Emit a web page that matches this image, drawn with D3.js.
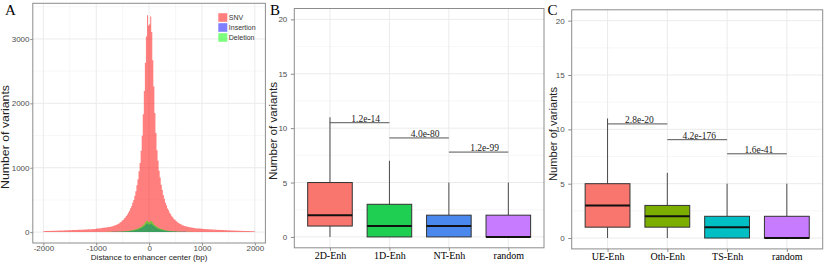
<!DOCTYPE html>
<html><head><meta charset="utf-8">
<script src="https://cdn.jsdelivr.net/npm/d3@7"></script>
<style>body{margin:0;background:#fff} svg{display:block}</style>
</head><body>
<svg id="c" width="826" height="266"></svg>
<script>
// ---------------- Panel A data (histogram of variant positions) ----------------
const binWidth = 20;
const snvStart = -2000;
const snvCounts = [
 15,17,16,18,17,19,20,18,21,20,
 22,21,23,24,22,25,24,26,27,25,
 28,27,29,30,28,31,30,32,33,31,
 34,33,35,36,35,37,38,37,39,40,
 41,40,43,44,42,46,47,45,49,50,
 55,57,56,60,62,63,66,69,70,73,
 75,78,80,84,87,90,97,101,110,116,
 127,135,148,158,176,188,210,226,252,272,
 305,330,372,404,456,500,566,636,728,822,
 945,1075,1265,1495,1830,2190,2630,3040,3370,3210,
 3230,3350,3110,2670,2260,1850,1540,1270,1110,955,
 850,735,660,575,520,455,416,366,340,300,
 279,247,230,205,192,171,162,146,139,125,
 119,108,104,95,93,86,84,78,77,72,
 71,66,65,62,62,58,58,55,55,52,
 52,49,49,46,47,44,45,42,43,40,
 41,38,39,36,37,34,36,33,34,31,
 32,30,31,28,29,27,28,25,27,24,
 25,23,24,21,23,20,22,19,20,18,
 19,17,18,16,17,15,16,14,15,14
];
const indelStart = -800;
const insertionCounts = [
 2,3,3,3,3,4,4,4,5,5,6,6,7,7,8,9,10,11,12,13,
 14,16,18,20,23,26,29,33,37,42,48,55,63,72,83,96,112,130,135,120,
 118,133,128,110,94,82,71,62,54,47,41,36,32,28,25,22,20,18,16,14,
 13,12,11,10,9,8,7,7,6,6,5,5,4,4,4,3,3,3,3,2
];
const deletionCounts = [
 4,4,4,5,5,5,6,6,7,7,8,8,9,10,11,12,13,15,16,18,
 20,22,25,28,31,35,40,45,51,58,66,75,85,97,112,130,150,172,178,160,
 158,176,170,148,128,110,96,84,74,65,57,50,44,39,34,30,27,24,21,19,
 17,16,14,13,12,11,10,9,8,8,7,7,6,6,5,5,5,4,4,4
];
const histSeries = ["SNV", "Insertion", "Deletion"];
const histColors = ["#ff0000", "#0000ff", "#00ff00"];
const xTicksA = [-2000, -1000, 0, 1000, 2000];
const yTicksA = [0, 1000, 2000, 3000];

// ---------------- Panel B data ----------------
const catsB = ["2D-Enh", "1D-Enh", "NT-Enh", "random"];
const lowB  = [0, 0, 0, 0];
const q1B   = [1, 0, 0, 0];
const medB  = [2, 1, 1, 0];
const q3B   = [5, 3, 2, 2];
const highB = [11, 7, 5, 5];
const colorsB = ["#F8766D", "#1ECF52", "#4A88EE", "#C77CFF"];
const pLabelsB  = ["1.2e-14", "4.0e-80", "1.2e-99"];
const pHeightsB = [10.5, 9.1, 7.8];

// ---------------- Panel C data ----------------
const catsC = ["UE-Enh", "Oth-Enh", "TS-Enh", "random"];
const lowC  = [0, 0, 0, 0];
const q1C   = [1, 1, 0, 0];
const medC  = [3, 2, 1, 0];
const q3C   = [5, 3, 2, 2];
const highC = [11, 6, 5, 5];
const colorsC = ["#F8766D", "#7CAE00", "#00BFC4", "#C77CFF"];
const pLabelsC  = ["2.8e-20", "4.2e-176", "1.6e-41"];
const pHeightsC = [10.5, 9.05, 7.75];

const yTicksBox = [0, 5, 10, 15, 20];
const yTitle = "Number of variants";
const xTitleA = "Distance to enhancer center (bp)";

// ---------------- drawing ----------------
const svg = d3.select("#c");
const SANS = "Liberation Sans, Arial, Helvetica, sans-serif";
const SERIF = "Liberation Serif, Times New Roman, serif";
const GRID = "#EBEBEB", GRIDMINOR = "#F3F3F3", BORDER = "#8c8c8c", TICKTXT = "#4D4D4D";

function styleAxis(g, fontFamily, fontSize, color) {
  g.select(".domain").remove();
  g.selectAll(".tick line").attr("stroke", BORDER).attr("stroke-width", 1);
  g.selectAll(".tick text").attr("fill", color).style("font-family", fontFamily).style("font-size", fontSize + "px");
}

// ===== Panel A =====
(function () {
  const L = 32.8, R = 265.4, T = 3.3, B = 243;
  const x = d3.scaleLinear().domain([-2200, 2200]).range([L, R]);
  const y = d3.scaleLinear().domain([-169, 3554]).range([B, T]);
  const g = svg.append("g");
  // grid
  [-1500, -500, 500, 1500].forEach(v => g.append("line").attr("x1", x(v)).attr("x2", x(v)).attr("y1", T).attr("y2", B).attr("stroke", GRIDMINOR).attr("stroke-width", 0.7));
  [500, 1500, 2500, 3500].forEach(v => g.append("line").attr("y1", y(v)).attr("y2", y(v)).attr("x1", L).attr("x2", R).attr("stroke", GRIDMINOR).attr("stroke-width", 0.7));
  xTicksA.forEach(v => g.append("line").attr("x1", x(v)).attr("x2", x(v)).attr("y1", T).attr("y2", B).attr("stroke", GRID).attr("stroke-width", 1));
  yTicksA.forEach(v => g.append("line").attr("y1", y(v)).attr("y2", y(v)).attr("x1", L).attr("x2", R).attr("stroke", GRID).attr("stroke-width", 1));

  function pts(start, counts) {
    const p = counts.map((c, i) => ({ x: start + i * binWidth, c }));
    p.push({ x: start + counts.length * binWidth, c: counts[counts.length - 1] });
    return p;
  }
  const area = d3.area().x(d => x(d.x)).y0(y(0)).y1(d => y(d.c)).curve(d3.curveStepAfter);
  const series = [pts(snvStart, snvCounts), pts(indelStart, insertionCounts), pts(indelStart, deletionCounts)];
  series.forEach((s, i) => g.append("path").attr("d", area(s)).attr("fill", histColors[i]).attr("fill-opacity", 0.5));

  g.append("rect").attr("x", L).attr("y", T).attr("width", R - L).attr("height", B - T).attr("fill", "none").attr("stroke", BORDER).attr("stroke-width", 1);

  const ax = g.append("g").attr("transform", `translate(0,${B})`).call(d3.axisBottom(x).tickValues(xTicksA).tickSize(2.5).tickPadding(0).tickFormat(d3.format("d")));
  styleAxis(ax, SANS, 8, TICKTXT);
  ax.selectAll(".tick text").text(d => d < 0 ? "-" + Math.abs(d) : d);
  const ay = g.append("g").attr("transform", `translate(${L},0)`).call(d3.axisLeft(y).tickValues(yTicksA).tickSize(2.5).tickPadding(0.8).tickFormat(d3.format("d")));
  styleAxis(ay, SANS, 8, TICKTXT);

  g.append("text").attr("x", (L + R) / 2).attr("y", 259.5).attr("text-anchor", "middle").style("font-family", SANS).style("font-size", "8px").attr("fill", "#222").text(xTitleA);
  g.append("text").attr("transform", "translate(9.3,137) rotate(-90)").attr("text-anchor", "middle").style("font-family", SANS).style("font-size", "10px").attr("textLength", 104).attr("lengthAdjust", "spacingAndGlyphs").attr("fill", "#222").text(yTitle);

  // legend
  const lg = g.append("g");
  histSeries.forEach((s, i) => {
    const cy = 17.5 + i * 10;
    lg.append("rect").attr("x", 218.3).attr("y", cy - 4.3).attr("width", 9).attr("height", 8.6).attr("fill", histColors[i]).attr("fill-opacity", 0.5);
    lg.append("text").attr("x", 228.8).attr("y", cy + 2.5).style("font-family", SANS).style("font-size", "7px").attr("fill", "#333").text(s);
  });
  svg.append("text").attr("x", 5).attr("y", 14.5).style("font-family", SERIF).style("font-size", "15px").attr("fill", "#000").text("A");
})();

// ===== Box panels =====
function boxPanel(opt) {
  const { L, R, T, B, cats, low, q1, med, q3, high, colors, pLabels, pHeights, labelShift, letter, letterX, titleX, titleY, titleLen } = opt;
  const g = svg.append("g");
  const x = d3.scalePoint().domain(cats).range([L, R]).padding(0.6);
  const y = d3.scaleLinear().domain([-1, 21]).range([B, T]);
  const bw = x.step() * 0.75;
  // grid
  [2.5, 7.5, 12.5, 17.5].forEach(v => g.append("line").attr("y1", y(v)).attr("y2", y(v)).attr("x1", L).attr("x2", R).attr("stroke", GRIDMINOR).attr("stroke-width", 0.7));
  yTicksBox.forEach(v => g.append("line").attr("y1", y(v)).attr("y2", y(v)).attr("x1", L).attr("x2", R).attr("stroke", GRID).attr("stroke-width", 1));
  cats.forEach(c => g.append("line").attr("x1", x(c)).attr("x2", x(c)).attr("y1", T).attr("y2", B).attr("stroke", GRID).attr("stroke-width", 1));

  cats.forEach((c, i) => {
    const cx = x(c);
    g.append("line").attr("x1", cx).attr("x2", cx).attr("y1", y(q3[i])).attr("y2", y(high[i])).attr("stroke", "#4a4a4a").attr("stroke-width", 1);
    g.append("line").attr("x1", cx).attr("x2", cx).attr("y1", y(low[i])).attr("y2", y(q1[i])).attr("stroke", "#4a4a4a").attr("stroke-width", 1);
    g.append("rect").attr("x", cx - bw / 2).attr("y", y(q3[i])).attr("width", bw).attr("height", y(q1[i]) - y(q3[i])).attr("fill", colors[i]).attr("stroke", "#333").attr("stroke-width", 1);
    g.append("line").attr("x1", cx - bw / 2).attr("x2", cx + bw / 2).attr("y1", y(med[i])).attr("y2", y(med[i])).attr("stroke", "#111").attr("stroke-width", 2);
  });
  pLabels.forEach((p, i) => {
    const x1 = x(cats[i]), x2 = x(cats[i + 1]), yy = y(pHeights[i]);
    g.append("line").attr("x1", x1).attr("x2", x2).attr("y1", yy).attr("y2", yy).attr("stroke", "#555").attr("stroke-width", 1);
    g.append("text").attr("x", (x1 + x2) / 2 + labelShift).attr("y", yy - 1).attr("text-anchor", "middle").style("font-family", SERIF).style("font-size", "9.5px").attr("fill", "#222").text(p);
  });
  g.append("rect").attr("x", L).attr("y", T).attr("width", R - L).attr("height", B - T).attr("fill", "none").attr("stroke", BORDER).attr("stroke-width", 1);

  const ax = g.append("g").attr("transform", `translate(0,${B})`).call(d3.axisBottom(x).tickSize(3).tickPadding(1.1));
  styleAxis(ax, SERIF, 10, "#000");
  const ay = g.append("g").attr("transform", `translate(${L},0)`).call(d3.axisLeft(y).tickValues(yTicksBox).tickSize(3.5).tickPadding(3.5));
  styleAxis(ay, SANS, 8, TICKTXT);

  g.append("text").attr("transform", `translate(${titleX},${titleY}) rotate(-90)`).attr("text-anchor", "middle").style("font-family", SANS).style("font-size", "10px").attr("textLength", titleLen).attr("lengthAdjust", "spacingAndGlyphs").attr("fill", "#222").text(yTitle);
  svg.append("text").attr("x", letterX).attr("y", 14.5).style("font-family", SERIF).style("font-size", "15px").attr("fill", "#000").text(letter);
}

boxPanel({ L: 294.3, R: 544, T: 8.5, B: 247.8, cats: catsB, low: lowB, q1: q1B, med: medB, q3: q3B, high: highB, colors: colorsB,
  pLabels: pLabelsB, pHeights: pHeightsB, labelShift: 6, letter: "B", letterX: 270, titleX: 277.3, titleY: 131, titleLen: 98 });
boxPanel({ L: 571.7, R: 822.7, T: 9.8, B: 248.9, cats: catsC, low: lowC, q1: q1C, med: medC, q3: q3C, high: highC, colors: colorsC,
  pLabels: pLabelsC, pHeights: pHeightsC, labelShift: 2, letter: "C", letterX: 547.5, titleX: 556.7, titleY: 134, titleLen: 94 });
</script>
</body></html>
